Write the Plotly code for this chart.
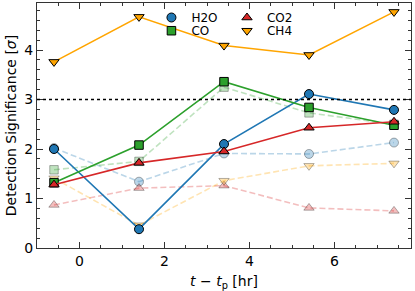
import plotly.graph_objects as go

x_hr = [-0.6, 1.4, 3.4, 5.4, 7.4]
species = ["H2O", "CO", "CO2", "CH4"]
solid_vals = {
    "H2O": [2.00, 0.38, 2.10, 3.11, 2.79],
    "CO": [1.32, 2.08, 3.36, 2.84, 2.48],
    "CO2": [1.28, 1.72, 1.95, 2.43, 2.55],
    "CH4": [3.76, 4.67, 4.09, 3.90, 4.77],
}
dashed_vals = {
    "H2O": [2.02, 1.34, 1.91, 1.90, 2.13],
    "CO": [1.58, 1.75, 3.25, 2.73, 2.50],
    "CO2": [0.87, 1.21, 1.26, 0.81, 0.75],
    "CH4": [1.41, 0.46, 1.36, 1.66, 1.71],
}
threshold = 3.0
x_ticks = [0, 2, 4, 6]
y_ticks = [0, 1, 2, 3, 4]

colors = {"H2O": "31,119,180", "CO": "44,160,44", "CO2": "214,39,40", "CH4": "255,165,0"}
symbols = {"H2O": "circle", "CO": "square", "CO2": "triangle-up", "CH4": "triangle-down"}
sizes = {"H2O": 9, "CO": 8.5, "CO2": 9, "CH4": 9}
legend_pos = {"H2O": (0.306, 1.0), "CO": (0.306, 0.946), "CO2": (0.508, 1.0), "CH4": (0.508, 0.946)}
legend_ids = {"H2O": "legend", "CO": "legend2", "CO2": "legend3", "CH4": "legend4"}

fig = go.Figure()

for s in species:
    c = colors[s]
    fig.add_trace(go.Scatter(
        x=x_hr, y=dashed_vals[s], mode="lines+markers", showlegend=False,
        line=dict(color=f"rgba({c},0.3)", width=1.6, dash="6px,3px"),
        marker=dict(symbol=symbols[s], size=sizes[s], color=f"rgba({c},0.3)",
                    line=dict(color="rgba(0,0,0,0.3)", width=1)),
    ))

for s in species:
    c = colors[s]
    fig.add_trace(go.Scatter(
        x=x_hr, y=solid_vals[s], mode="lines+markers", showlegend=False,
        line=dict(color=f"rgb({c})", width=1.6),
        marker=dict(symbol=symbols[s], size=sizes[s], color=f"rgb({c})",
                    line=dict(color="black", width=1)),
    ))
    # legend entry (marker only, as in the original)
    fig.add_trace(go.Scatter(
        x=[None], y=[None], mode="markers", name=s, legend=legend_ids[s],
        marker=dict(symbol=symbols[s], size=sizes[s], color=f"rgb({c})",
                    line=dict(color="black", width=1)),
    ))

fig.add_shape(type="line", xref="paper", x0=0, x1=1, yref="y", y0=threshold, y1=threshold,
              line=dict(color="black", width=1.6, dash="dot"))

axis_common = dict(
    showgrid=False, zeroline=False, ticks="inside", mirror="allticks", automargin=False,
    showline=True, linecolor="#333", linewidth=1.3, tickcolor="#333",
    tickfont=dict(family="DejaVu Sans", size=14, color="black"),
)
fig.update_xaxes(range=[-1.0, 7.8], tickvals=x_ticks, ticklen=6, tickwidth=1.1,
                 minor=dict(dtick=0.5, tick0=0, ticks="inside", ticklen=3, tickcolor="#333"),
                 title=dict(text="<i>t</i> − <i>t</i><sub>p</sub> [hr]", standoff=8,
                            font=dict(family="DejaVu Sans", size=14, color="black")),
                 **axis_common)
fig.update_yaxes(range=[0, 4.95], tickvals=y_ticks, ticklen=6, tickwidth=1.1,
                 minor=dict(dtick=0.2, tick0=0, ticks="inside", ticklen=3, tickcolor="#333"),
                 title=dict(text="Detection Significance [<i>σ</i>]", standoff=4,
                            font=dict(family="DejaVu Sans", size=14, color="black")),
                 **axis_common)

layout_legends = {}
for s in species:
    lx, ly = legend_pos[s]
    layout_legends[legend_ids[s]] = dict(
        x=lx, y=ly, xanchor="left", yanchor="top", bgcolor="rgba(0,0,0,0)",
        font=dict(family="DejaVu Sans", size=12, color="black"),
        itemwidth=30, tracegroupgap=0,
    )

fig.update_layout(
    width=415, height=291,
    margin=dict(l=37, r=4, t=3, b=43),
    plot_bgcolor="white", paper_bgcolor="white",
    **layout_legends,
)

fig.write_html("out.html", config={"displayModeBar": False},
               post_script="document.body.style.margin='0px';")
